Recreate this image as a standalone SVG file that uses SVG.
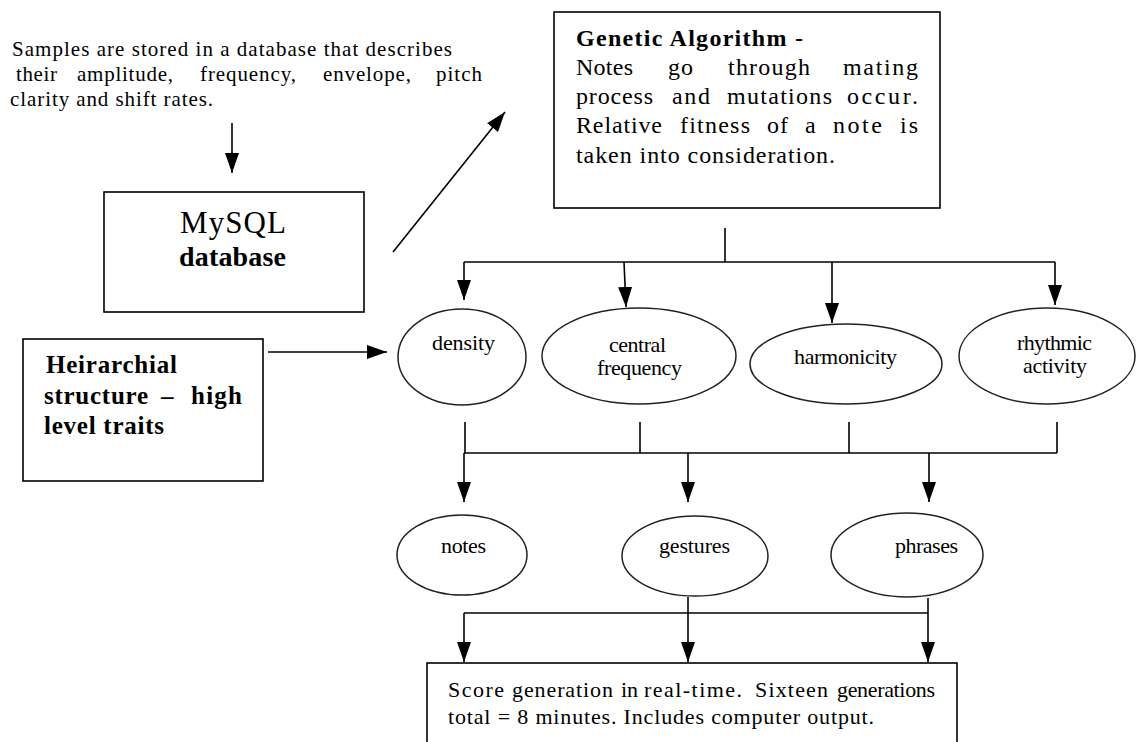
<svg xmlns="http://www.w3.org/2000/svg" width="1141" height="742" viewBox="0 0 1141 742">
<style>
  .t { font-family: "Liberation Serif", "DejaVu Serif", serif; fill: #000; }
  .s21 { font-size: 21px; }
  .s24 { font-size: 24px; }
  .s22 { font-size: 22px; }
  .b { font-weight: bold; }
  .box { fill: #fff; stroke: #000; stroke-width: 1.6; }
  .ell { fill: #fff; stroke: #222; stroke-width: 1.5; }
  .ln { fill: none; stroke: #000; stroke-width: 1.6; }
  .arr { fill: none; stroke: #000; stroke-width: 1.6; marker-end: url(#ah); }
</style>
<defs>
  <marker id="ah" viewBox="0 -7 20 14" markerWidth="20" markerHeight="14" refX="20" refY="0" orient="auto" markerUnits="userSpaceOnUse">
    <path d="M0,-7 L20,0 L0,7 Z" fill="#000"/>
  </marker>
</defs>
<rect width="1141" height="742" fill="#fff"/>

<g id="samples-note">
  <text class="t s21" x="12" y="56" textLength="440" lengthAdjust="spacing">Samples are stored in a database that describes</text>
  <text class="t s21" x="16" y="81" textLength="41" lengthAdjust="spacing">their</text>
  <text class="t s21" x="77" y="81" textLength="96" lengthAdjust="spacing">amplitude,</text>
  <text class="t s21" x="200" y="81" textLength="96" lengthAdjust="spacing">frequency,</text>
  <text class="t s21" x="323" y="81" textLength="88" lengthAdjust="spacing">envelope,</text>
  <text class="t s21" x="436" y="81" textLength="46" lengthAdjust="spacing">pitch</text>
  <text class="t s21" x="10" y="106" textLength="203" lengthAdjust="spacing">clarity and shift rates.</text>
</g>

<g id="mysql">
  <rect class="box" x="104" y="192" width="260" height="120"/>
  <text class="t" font-size="31" x="180" y="233" textLength="106" lengthAdjust="spacing">MySQL</text>
  <text class="t b" font-size="28" x="179" y="266" textLength="107" lengthAdjust="spacing">database</text>
</g>

<g id="genetic-algorithm">
  <rect class="box" x="554" y="12" width="386" height="196"/>
  <text class="t b" font-size="24" x="576" y="46" textLength="227" lengthAdjust="spacing">Genetic Algorithm -</text>
  <text class="t s24" x="576" y="75" textLength="57" lengthAdjust="spacing">Notes</text>
  <text class="t s24" x="668" y="75" textLength="25" lengthAdjust="spacing">go</text>
  <text class="t s24" x="728" y="75" textLength="82" lengthAdjust="spacing">through</text>
  <text class="t s24" x="843" y="75" textLength="75" lengthAdjust="spacing">mating</text>
  <text class="t s24" x="576" y="104" textLength="77" lengthAdjust="spacing">process</text>
  <text class="t s24" x="672" y="104" textLength="38" lengthAdjust="spacing">and</text>
  <text class="t s24" x="727" y="104" textLength="105" lengthAdjust="spacing">mutations</text>
  <text class="t s24" x="847" y="104" textLength="71" lengthAdjust="spacing">occur.</text>
  <text class="t s24" x="576" y="133" textLength="86" lengthAdjust="spacing">Relative</text>
  <text class="t s24" x="680" y="133" textLength="70" lengthAdjust="spacing">fitness</text>
  <text class="t s24" x="767" y="133" textLength="21" lengthAdjust="spacing">of</text>
  <text class="t s24" x="805" y="133">a</text>
  <text class="t s24" x="833" y="133" textLength="49" lengthAdjust="spacing">note</text>
  <text class="t s24" x="900" y="133" textLength="18" lengthAdjust="spacing">is</text>
  <text class="t s24" x="576" y="163" textLength="259" lengthAdjust="spacing">taken into consideration.</text>
</g>

<g id="hierarchial">
  <rect class="box" x="23" y="339" width="240" height="142"/>
  <text class="t b" font-size="25" x="46" y="373" textLength="131" lengthAdjust="spacing">Heirarchial</text>
  <text class="t b" font-size="25" x="44" y="404" textLength="104" lengthAdjust="spacing">structure</text>
  <text class="t b" font-size="25" x="161" y="404" textLength="19" lengthAdjust="spacing">–</text>
  <text class="t b" font-size="25" x="191" y="404" textLength="51" lengthAdjust="spacing">high</text>
  <text class="t b" font-size="25" x="44" y="434" textLength="120" lengthAdjust="spacing">level traits</text>
</g>

<g id="density">
  <ellipse class="ell" cx="462" cy="357" rx="64" ry="48"/>
  <text class="t s22" x="432" y="350" textLength="63" lengthAdjust="spacing">density</text>
</g>
<g id="central-frequency">
  <ellipse class="ell" cx="639" cy="356" rx="97" ry="48"/>
  <text class="t s22" x="609" y="352" textLength="57" lengthAdjust="spacing">central</text>
  <text class="t s22" x="597" y="375" textLength="85" lengthAdjust="spacing">frequency</text>
</g>
<g id="harmonicity">
  <ellipse class="ell" cx="846" cy="364" rx="96" ry="40"/>
  <text class="t s22" x="794" y="364" textLength="103" lengthAdjust="spacing">harmonicity</text>
</g>
<g id="rhythmic-activity">
  <ellipse class="ell" cx="1047" cy="356" rx="88" ry="48"/>
  <text class="t s22" x="1017" y="350" textLength="75" lengthAdjust="spacing">rhythmic</text>
  <text class="t s22" x="1023" y="373" textLength="64" lengthAdjust="spacing">activity</text>
</g>

<g id="notes">
  <ellipse class="ell" cx="462" cy="555" rx="65" ry="40"/>
  <text class="t s22" x="441" y="553" textLength="45" lengthAdjust="spacing">notes</text>
</g>
<g id="gestures">
  <ellipse class="ell" cx="695" cy="556" rx="73" ry="40"/>
  <text class="t s22" x="659" y="553" textLength="71" lengthAdjust="spacing">gestures</text>
</g>
<g id="phrases">
  <ellipse class="ell" cx="907" cy="555" rx="76" ry="42"/>
  <text class="t s22" x="895" y="553" textLength="63" lengthAdjust="spacing">phrases</text>
</g>

<g id="score">
  <rect class="box" x="427" y="663" width="530" height="100"/>
  <text class="t s22" x="448" y="697" textLength="56" lengthAdjust="spacing">Score</text>
  <text class="t s22" x="512" y="697" textLength="101" lengthAdjust="spacing">generation</text>
  <text class="t s22" x="621" y="697" textLength="17" lengthAdjust="spacing">in</text>
  <text class="t s22" x="644" y="697" textLength="98" lengthAdjust="spacing">real-time.</text>
  <text class="t s22" x="755" y="697" textLength="73" lengthAdjust="spacing">Sixteen</text>
  <text class="t s22" x="837" y="697" textLength="98" lengthAdjust="spacing">generations</text>
  <text class="t s22" x="448" y="724" textLength="426" lengthAdjust="spacing">total = 8 minutes.  Includes computer output.</text>
</g>

<g id="connectors">
  <line class="arr" x1="232" y1="123" x2="232" y2="173"/>
  <line class="arr" x1="393" y1="252" x2="505" y2="112"/>
  <line class="arr" x1="268" y1="352" x2="387" y2="352"/>

  <line class="ln" x1="725" y1="228" x2="725" y2="262"/>
  <line class="ln" x1="464" y1="262" x2="1055" y2="262"/>
  <line class="arr" x1="464" y1="262" x2="464" y2="300"/>
  <line class="arr" x1="624" y1="262" x2="626" y2="307"/>
  <line class="arr" x1="832" y1="262" x2="832" y2="323"/>
  <line class="arr" x1="1055" y1="262" x2="1055" y2="305"/>

  <line class="ln" x1="465" y1="422" x2="465" y2="453"/>
  <line class="ln" x1="640" y1="422" x2="640" y2="453"/>
  <line class="ln" x1="849" y1="422" x2="849" y2="453"/>
  <line class="ln" x1="1057" y1="422" x2="1057" y2="453"/>
  <line class="ln" x1="464" y1="453" x2="1057" y2="453"/>
  <line class="arr" x1="464" y1="453" x2="464" y2="502"/>
  <line class="arr" x1="688" y1="453" x2="688" y2="502"/>
  <line class="arr" x1="929" y1="453" x2="929" y2="502"/>

  <line class="ln" x1="464" y1="613" x2="928" y2="613"/>
  <line class="arr" x1="464" y1="613" x2="464" y2="662"/>
  <line class="arr" x1="688" y1="597" x2="688" y2="662"/>
  <line class="arr" x1="928" y1="598" x2="928" y2="662"/>
</g>
</svg>
